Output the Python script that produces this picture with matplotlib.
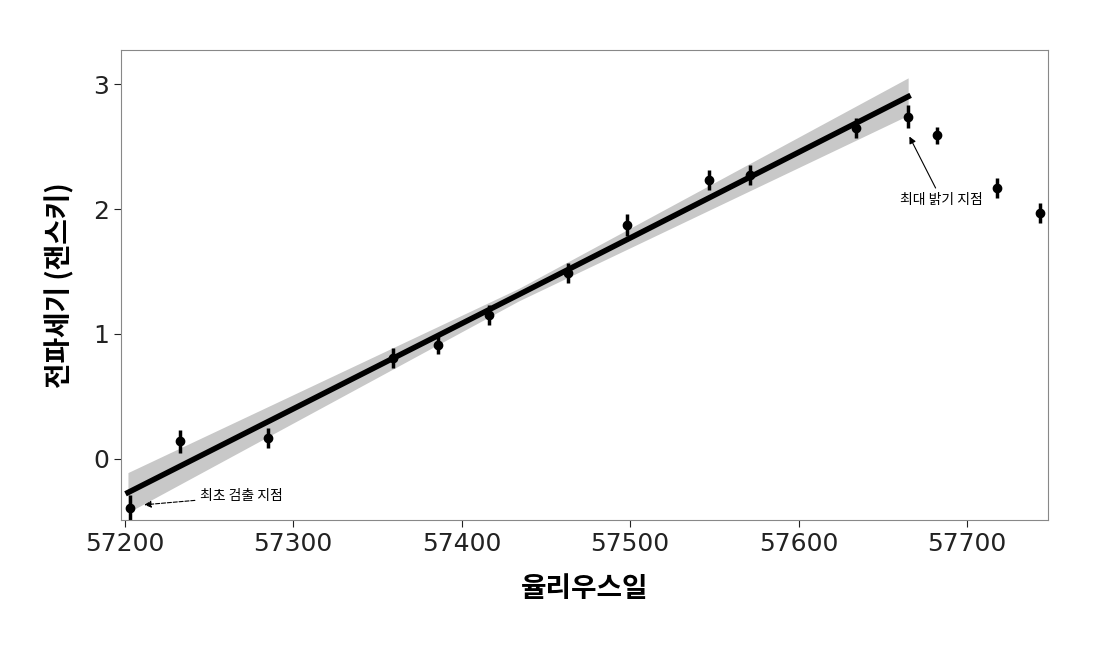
import numpy as np
import matplotlib.pyplot as plt

plt.rcParams['font.family'] = ['Noto Sans CJK KR', 'DejaVu Sans']

# observations (Julian day, magnitude)
jd = [57203.5, 57233, 57285, 57359, 57386, 57416, 57463, 57498, 57547, 57571,
      57634, 57665, 57682, 57718, 57743]
mag = [-0.39, 0.14, 0.17, 0.81, 0.91, 1.15, 1.49, 1.87, 2.23, 2.27,
       2.65, 2.74, 2.59, 2.17, 1.97]
err = [0.10, 0.09, 0.08, 0.08, 0.07, 0.08, 0.08, 0.09, 0.08, 0.08,
       0.08, 0.09, 0.07, 0.08, 0.08]

# linear fit end points and confidence half-widths
fit_x = [57202, 57434, 57665]
fit_y = [-0.27, 1.315, 2.90]
band = [0.16, 0.05, 0.15]

fig, ax = plt.subplots(figsize=(11.02, 6.46), dpi=100)
fig.subplots_adjust(left=0.11, right=0.951, top=0.922, bottom=0.195)

ax.fill_between(fit_x, np.array(fit_y) - band, np.array(fit_y) + band,
                color='#c8c8c8', lw=0)
ax.plot(fit_x, fit_y, color='black', lw=4)
ax.errorbar(jd, mag, yerr=err, fmt='o', color='black', ms=6, elinewidth=2.5, capsize=0)

ax.annotate('최초 검출 지점', xy=(57210, -0.37), xytext=(57245, -0.30),
            fontsize=10, va='center',
            arrowprops=dict(arrowstyle='-|>', color='black', lw=0.8, ls='--'))
ax.annotate('최대 밝기 지점', xy=(57665, 2.60), xytext=(57685, 2.07),
            fontsize=10, ha='center', va='center',
            arrowprops=dict(arrowstyle='-|>', color='black', lw=0.8))

ax.set_xlim(57198, 57748)
ax.set_ylim(-0.49, 3.27)
ax.set_xticks([57200, 57300, 57400, 57500, 57600, 57700])
ax.set_yticks([0, 1, 2, 3])
ax.tick_params(labelsize=18, length=5, colors='#222222')
for lab in ax.get_xticklabels() + ax.get_yticklabels():
    lab.set_family('DejaVu Sans')
for s in ax.spines.values():
    s.set_color('#888888')

ax.set_xlabel('율리우스일', fontsize=20, fontweight='bold', labelpad=14)
ax.set_ylabel('전파세기 (잰스키)', fontsize=20, fontweight='bold', labelpad=14)

plt.savefig('out.png')
